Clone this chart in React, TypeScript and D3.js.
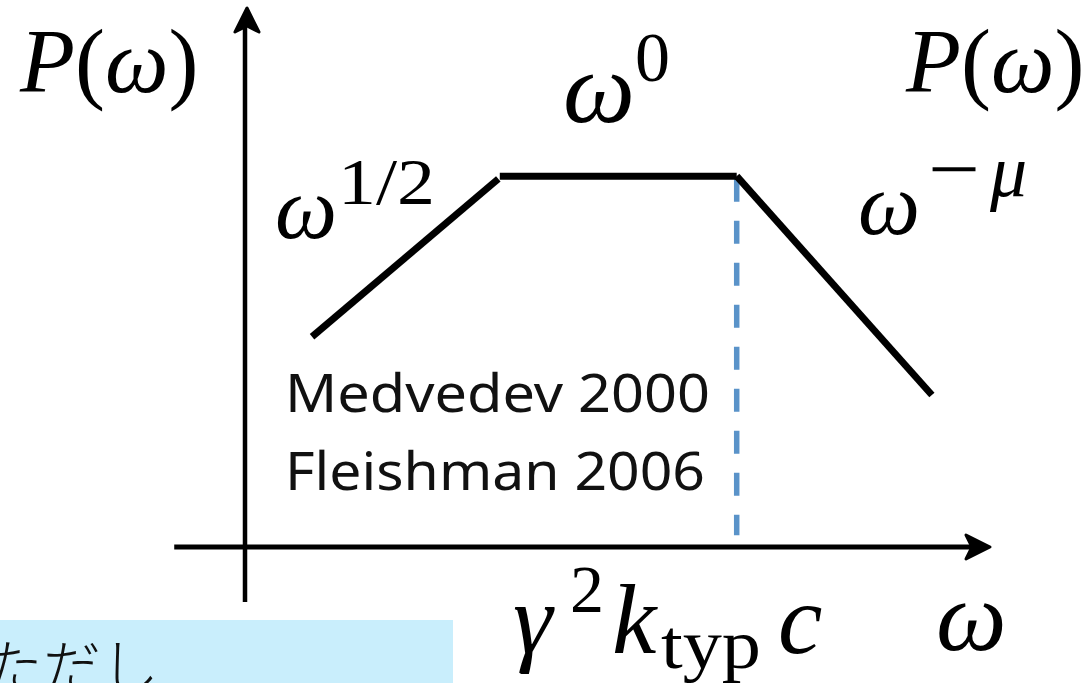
import React from "react";
import * as d3 from "d3";

// Schematic gyrosynchrotron-type spectrum P(ω): three power-law segments
const riseX = [9, 34];
const riseY = [39, 68.3];
const plateauX = [34.2, 66];
const plateauY = [68.8, 68.8];
const fallX = [66, 92.2];
const fallY = [68.8, 28.2];

// characteristic frequency marker (dashed)
const markX = 66;
const markY = [68.3, 2.2];

// axis extents
const axisXRange = [-9.5, 100];
const axisYRange = [-10.2, 100];

const refs = ["Medvedev 2000", "Fleishman 2006"];
const note = "ただし";

const W = 1088;
const H = 683;

const x = d3.scaleLinear().domain([0, 100]).range([245, 990]);
const y = d3.scaleLinear().domain([0, 100]).range([547, 8]);

const line = d3
  .line<[number, number]>()
  .x((d) => x(d[0]))
  .y((d) => y(d[1]));

const zip = (xs: number[], ys: number[]): [number, number][] =>
  xs.map((v, i) => [v, ys[i]]);

const MATH = "'Liberation Serif', 'DejaVu Serif', serif";
const SANS = "'Noto Sans', 'Open Sans', sans-serif";
const CJK = "'Noto Sans CJK JP', 'Noto Sans', sans-serif";

export default function App() {
  const x0 = x(0);
  const y0 = y(0);
  const xTip = x(axisXRange[1]);
  const yTip = y(axisYRange[1]);

  return (
    <svg
      width={W}
      height={H}
      viewBox={`0 0 ${W} ${H}`}
      style={{ position: "fixed", left: 0, top: 0, background: "#fff" }}
    >
      {/* note box at the lower left */}
      <rect x={0} y={620} width={453} height={80} fill="#c9eefc" />
      <text x={-15} y={688} fontFamily={CJK} fontSize={58} fontWeight={300} fill="#111">
        {note}
      </text>

      {/* axes */}
      <line
        x1={x0}
        x2={x0}
        y1={y(axisYRange[0])}
        y2={yTip + 12}
        stroke="#000"
        strokeWidth={4.5}
      />
      <path
        d={`M${x0 + 2},${yTip} L${x0 + 2 - 12},${yTip + 24} L${x0 + 2},${yTip + 18} L${x0 + 2 + 12},${yTip + 24} Z`}
        fill="#000"
        stroke="#000"
        strokeWidth={3}
        strokeLinejoin="round"
      />
      <line
        x1={x(axisXRange[0])}
        x2={xTip - 12}
        y1={y0}
        y2={y0}
        stroke="#000"
        strokeWidth={5}
      />
      <path
        d={`M${xTip},${y0} L${xTip - 24},${y0 - 12} L${xTip - 18},${y0} L${xTip - 24},${y0 + 12} Z`}
        fill="#000"
        stroke="#000"
        strokeWidth={3}
        strokeLinejoin="round"
      />

      {/* dashed marker */}
      <line
        x1={x(markX)}
        x2={x(markX)}
        y1={y(markY[0])}
        y2={y(markY[1])}
        stroke="#5a93c9"
        strokeWidth={5.5}
        strokeDasharray="23 19"
      />

      {/* spectrum segments */}
      {[zip(riseX, riseY), zip(plateauX, plateauY), zip(fallX, fallY)].map((seg, i) => (
        <path key={i} d={line(seg) ?? ""} fill="none" stroke="#000" strokeWidth={7} />
      ))}

      {/* axis titles */}
      <text x={20} y={92} fontFamily={MATH} fontSize={90} fill="#000">
        <tspan fontStyle="italic">P</tspan>
        <tspan>(</tspan>
        <tspan fontStyle="italic">ω</tspan>
        <tspan>)</tspan>
      </text>
      <text x={906} y={92} fontFamily={MATH} fontSize={90} fill="#000">
        <tspan fontStyle="italic">P</tspan>
        <tspan>(</tspan>
        <tspan fontStyle="italic">ω</tspan>
        <tspan>)</tspan>
      </text>
      <text x={936} y={650} fontFamily={MATH} fontSize={100} fontStyle="italic" fill="#000">
        ω
      </text>

      {/* power-law labels */}
      <text fontFamily={MATH} fill="#000">
        <tspan x={275} y={238} fontSize={88} fontStyle="italic">ω</tspan>
        <tspan x={338} y={204} fontSize={66} textLength={97} lengthAdjust="spacingAndGlyphs">
          1/2
        </tspan>
      </text>
      <text fontFamily={MATH} fill="#000">
        <tspan x={563} y={122} fontSize={102} fontStyle="italic">ω</tspan>
        <tspan x={635} y={81} fontSize={70}>0</tspan>
      </text>
      <text fontFamily={MATH} fill="#000">
        <tspan x={858} y={234} fontSize={88} fontStyle="italic">ω</tspan>
        <tspan x={928} y={196} fontSize={80} textLength={52} lengthAdjust="spacingAndGlyphs">
          −
        </tspan>
        <tspan x={990} y={196} fontSize={74} fontStyle="italic">μ</tspan>
      </text>

      {/* characteristic frequency label */}
      <text fontFamily={MATH} fill="#000">
        <tspan x={513} y={653} fontSize={100} fontStyle="italic">γ</tspan>
        <tspan x={570} y={612} fontSize={68}>2</tspan>
        <tspan x={612} y={653} fontSize={100} fontStyle="italic">k</tspan>
        <tspan x={661} y={668} fontSize={70} textLength={100} lengthAdjust="spacingAndGlyphs">
          typ
        </tspan>
        <tspan x={778} y={653} fontSize={100} fontStyle="italic">c</tspan>
      </text>

      {/* references */}
      {refs.map((r, i) => (
        <text
          key={r}
          x={285}
          y={412 + i * 78}
          fontFamily={SANS}
          fontSize={52}
          fill="#111"
          textLength={i === 0 ? 425 : 420}
          lengthAdjust="spacingAndGlyphs"
        >
          {r}
        </text>
      ))}
    </svg>
  );
}
